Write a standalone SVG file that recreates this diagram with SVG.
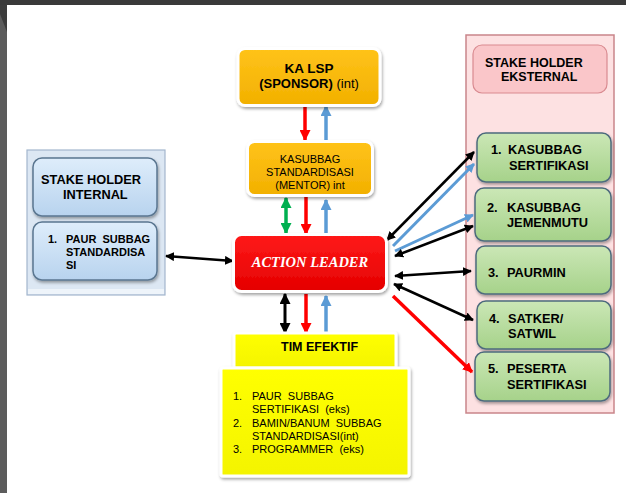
<svg xmlns="http://www.w3.org/2000/svg" width="626" height="493" viewBox="0 0 626 493">
<defs>
<style>
.t{font-family:"Liberation Sans",Arial,sans-serif;fill:#000;white-space:pre}
.b{font-weight:bold}
.gold{fill:url(#gGold);stroke:#fff;stroke-width:3}
.green{fill:url(#gGreen);stroke:#4d6b7d;stroke-width:1.5}
.blue{fill:url(#gBlue);stroke:#5a7690;stroke-width:1.5}
.shadow{filter:url(#sh)}
.ln{fill:none;stroke-linecap:butt}
</style>
<linearGradient id="gGold" x1="0" y1="0" x2="0" y2="1"><stop offset="0" stop-color="#FFC31A"/><stop offset="1" stop-color="#F2B000"/></linearGradient>
<linearGradient id="gRed" x1="0" y1="0" x2="0" y2="1"><stop offset="0" stop-color="#FF1A1A"/><stop offset="1" stop-color="#E40000"/></linearGradient>
<linearGradient id="gYel" x1="0" y1="0" x2="0" y2="1"><stop offset="0" stop-color="#FFFF00"/><stop offset="1" stop-color="#F4F400"/></linearGradient>
<linearGradient id="gGreen" x1="0" y1="0" x2="0" y2="1"><stop offset="0" stop-color="#CBE7B6"/><stop offset="1" stop-color="#A6D28A"/></linearGradient>
<linearGradient id="gBlue" x1="0" y1="0" x2="0" y2="1"><stop offset="0" stop-color="#DEEDFB"/><stop offset="1" stop-color="#B8D3EE"/></linearGradient>
<filter id="sh" x="-10%" y="-10%" width="130%" height="140%"><feDropShadow dx="1" dy="2" stdDeviation="1.8" flood-color="#000" flood-opacity="0.35"/></filter>
<marker id="aR" viewBox="0 0 10 10" refX="9" refY="5" markerWidth="11" markerHeight="11" markerUnits="userSpaceOnUse" orient="auto-start-reverse"><path d="M0,0 L10,5 L0,10 z" fill="#FF0000"/></marker>
<marker id="aB" viewBox="0 0 10 10" refX="9" refY="5" markerWidth="11" markerHeight="11" markerUnits="userSpaceOnUse" orient="auto-start-reverse"><path d="M0,0 L10,5 L0,10 z" fill="#5B9BD5"/></marker>
<marker id="aG" viewBox="0 0 10 10" refX="9" refY="5" markerWidth="11" markerHeight="11" markerUnits="userSpaceOnUse" orient="auto-start-reverse"><path d="M0,0 L10,5 L0,10 z" fill="#00B050"/></marker>
<marker id="aK" viewBox="0 0 10 10" refX="9" refY="5" markerWidth="11" markerHeight="11" markerUnits="userSpaceOnUse" orient="auto-start-reverse"><path d="M0,0 L10,5 L0,10 z" fill="#000"/></marker>
<marker id="sR" viewBox="0 0 10 10" refX="9" refY="5" markerWidth="10" markerHeight="10" markerUnits="userSpaceOnUse" orient="auto-start-reverse"><path d="M0,0 L10,5 L0,10 z" fill="#FF0000"/></marker>
<marker id="sB" viewBox="0 0 10 10" refX="9" refY="5" markerWidth="9" markerHeight="9" markerUnits="userSpaceOnUse" orient="auto-start-reverse"><path d="M0,0 L10,5 L0,10 z" fill="#5B9BD5"/></marker>
<marker id="sK" viewBox="0 0 10 10" refX="9" refY="5" markerWidth="9" markerHeight="9" markerUnits="userSpaceOnUse" orient="auto-start-reverse"><path d="M0,0 L10,5 L0,10 z" fill="#000"/></marker>
</defs>

<rect x="0" y="0" width="626" height="493" fill="#fff"/>
<g id="frame">
<rect x="0" y="0" width="7" height="493" fill="#5c5c5c"/>
<polygon points="0,0 7,0 7,32 0,14" fill="#3c3c3c"/>
<rect x="0" y="0" width="626" height="5" fill="#3a3a3a"/>
</g>

<g id="panel-internal">
<rect x="27" y="150" width="138" height="145" fill="#DCE7F3" stroke="#A3B6CD" stroke-width="1.2"/>
<rect x="28" y="289" width="136" height="5" fill="#EEF4FA"/>
</g>
<g id="panel-external">
<rect x="466" y="35" width="148" height="378" fill="#FDE1E2" stroke="#C9858A" stroke-width="1.5"/>
</g>

<g id="connectors">
<line class="ln" x1="305" y1="106" x2="305" y2="140" stroke="#FF0000" stroke-width="3.5" marker-end="url(#aR)"/>
<line class="ln" x1="326" y1="141" x2="326" y2="106" stroke="#5B9BD5" stroke-width="3.5" marker-end="url(#aB)"/>
<line class="ln" x1="286" y1="198" x2="286" y2="233" stroke="#00B050" stroke-width="3.5" marker-start="url(#aG)" marker-end="url(#aG)"/>
<line class="ln" x1="306" y1="197" x2="306" y2="234" stroke="#FF0000" stroke-width="3.5" marker-end="url(#aR)"/>
<line class="ln" x1="326" y1="236" x2="326" y2="200" stroke="#5B9BD5" stroke-width="3.5" marker-end="url(#aB)"/>
<line class="ln" x1="285" y1="294" x2="285" y2="333" stroke="#000" stroke-width="3" marker-start="url(#aK)" marker-end="url(#aK)"/>
<line class="ln" x1="306" y1="294" x2="306" y2="333" stroke="#FF0000" stroke-width="3.5" marker-end="url(#aR)"/>
<line class="ln" x1="326" y1="335" x2="326" y2="296" stroke="#5B9BD5" stroke-width="3.5" marker-end="url(#aB)"/>
<line class="ln" x1="166" y1="256" x2="233" y2="261" stroke="#000" stroke-width="2.5" marker-start="url(#sK)" marker-end="url(#sK)"/>
<line class="ln" x1="387" y1="240" x2="474" y2="152" stroke="#000" stroke-width="2.5" marker-start="url(#sK)" marker-end="url(#sK)"/>
<line class="ln" x1="393" y1="246" x2="474" y2="164" stroke="#5B9BD5" stroke-width="3" marker-end="url(#sB)"/>
<line class="ln" x1="395" y1="251" x2="473" y2="215" stroke="#5B9BD5" stroke-width="3" marker-end="url(#sB)"/>
<line class="ln" x1="395" y1="256" x2="473" y2="226" stroke="#000" stroke-width="2.5" marker-start="url(#sK)" marker-end="url(#sK)"/>
<line class="ln" x1="395" y1="276" x2="471" y2="271" stroke="#000" stroke-width="2.5" marker-start="url(#sK)" marker-end="url(#sK)"/>
<line class="ln" x1="394" y1="284" x2="473" y2="320" stroke="#000" stroke-width="2.5" marker-start="url(#sK)" marker-end="url(#sK)"/>
<line class="ln" x1="393" y1="296" x2="472" y2="372" stroke="#FF0000" stroke-width="3.5" marker-end="url(#sR)"/>
</g>

<g id="ka-lsp">
<rect class="gold shadow" x="238" y="48.5" width="142" height="57" rx="7"/>
<text class="t b" x="309" y="73" font-size="13.5" text-anchor="middle">KA LSP</text>
<text class="t" x="309" y="88" font-size="13" text-anchor="middle"><tspan font-weight="bold">(SPONSOR)</tspan> (int)</text>
</g>

<g id="kasubbag-standardisasi">
<rect class="gold shadow" x="247.5" y="141.5" width="125" height="54" rx="7"/>
<text class="t" x="310" y="163" font-size="11" text-anchor="middle">KASUBBAG</text>
<text class="t" x="310" y="176" font-size="11" text-anchor="middle">STANDARDISASI</text>
<text class="t" x="310" y="189" font-size="11" text-anchor="middle">(MENTOR) int</text>
</g>

<g id="action-leader">
<rect class="shadow" x="233.5" y="234.5" width="153" height="57" rx="8" fill="url(#gRed)" stroke="#fff" stroke-width="3"/>
<text x="310" y="267" font-family="'Liberation Serif','Times New Roman',serif" font-size="14.5" font-style="italic" font-weight="bold" fill="#fff" text-anchor="middle">ACTION LEADER</text>
</g>

<g id="tim-efektif">
<rect class="shadow" x="234" y="333" width="162" height="35" rx="2" fill="url(#gYel)" stroke="#fff" stroke-width="3"/>
<text class="t b" x="281" y="351" font-size="12.5">TIM EFEKTIF</text>
</g>

<g id="tim-list">
<rect class="shadow" x="221" y="368" width="188" height="108" rx="2" fill="url(#gYel)" stroke="#fff" stroke-width="3"/>
<text class="t" font-size="11"><tspan x="233" y="400">1.</tspan><tspan x="252" y="400">PAUR  SUBBAG</tspan><tspan x="252" y="413">SERTIFIKASI  (eks)</tspan><tspan x="233" y="427">2.</tspan><tspan x="252" y="427">BAMIN/BANUM  SUBBAG</tspan><tspan x="252" y="440">STANDARDISASI(int)</tspan><tspan x="233" y="453">3.</tspan><tspan x="252" y="453">PROGRAMMER  (eks)</tspan></text>
</g>

<g id="stake-internal">
<rect class="blue shadow" x="33" y="158" width="124" height="58" rx="9"/>
<text class="t b" font-size="12.8"><tspan x="41" y="184">STAKE HOLDER</tspan><tspan x="63" y="199">INTERNAL</tspan></text>
</g>

<g id="paur-standardisasi">
<rect class="blue shadow" x="33" y="222" width="124" height="58" rx="9"/>
<text class="t b" font-size="11"><tspan x="48" y="243">1.</tspan><tspan x="66" y="243">PAUR  SUBBAG</tspan><tspan x="66" y="256">STANDARDISA</tspan><tspan x="66" y="269">SI</tspan></text>
</g>

<g id="stake-eksternal">
<rect x="473" y="45" width="134" height="48" rx="9" fill="#FAC6C9" stroke="#D98A90" stroke-width="1.2"/>
<text class="t b" font-size="12.5"><tspan x="485" y="67">STAKE HOLDER</tspan><tspan x="501" y="81">EKSTERNAL</tspan></text>
</g>

<g id="kasubbag-sertifikasi">
<rect class="green shadow" x="477" y="133" width="134" height="49" rx="9"/>
<text class="t b" font-size="12.8"><tspan x="491" y="154">1.</tspan><tspan x="508" y="154">KASUBBAG</tspan><tspan x="509" y="170">SERTIFIKASI</tspan></text>
</g>

<g id="kasubbag-jemenmutu">
<rect class="green shadow" x="475" y="188" width="136" height="53" rx="9"/>
<text class="t b" font-size="12.8"><tspan x="487" y="212">2.</tspan><tspan x="507" y="212">KASUBBAG</tspan><tspan x="507" y="227">JEMENMUTU</tspan></text>
</g>

<g id="paurmin">
<rect class="green shadow" x="476" y="246" width="135" height="48" rx="9"/>
<text class="t b" font-size="12.8"><tspan x="488" y="277">3.</tspan><tspan x="507" y="277">PAURMIN</tspan></text>
</g>

<g id="satker-satwil">
<rect class="green shadow" x="477" y="301" width="134" height="48" rx="9"/>
<text class="t b" font-size="12.8"><tspan x="489" y="323">4.</tspan><tspan x="508" y="323">SATKER/</tspan><tspan x="508" y="338">SATWIL</tspan></text>
</g>

<g id="peserta-sertifikasi">
<rect class="green shadow" x="475" y="352" width="135" height="49" rx="9"/>
<text class="t b" font-size="12.8"><tspan x="488" y="373">5.</tspan><tspan x="507" y="373">PESERTA</tspan><tspan x="507" y="389">SERTIFIKASI</tspan></text>
</g>
</svg>
